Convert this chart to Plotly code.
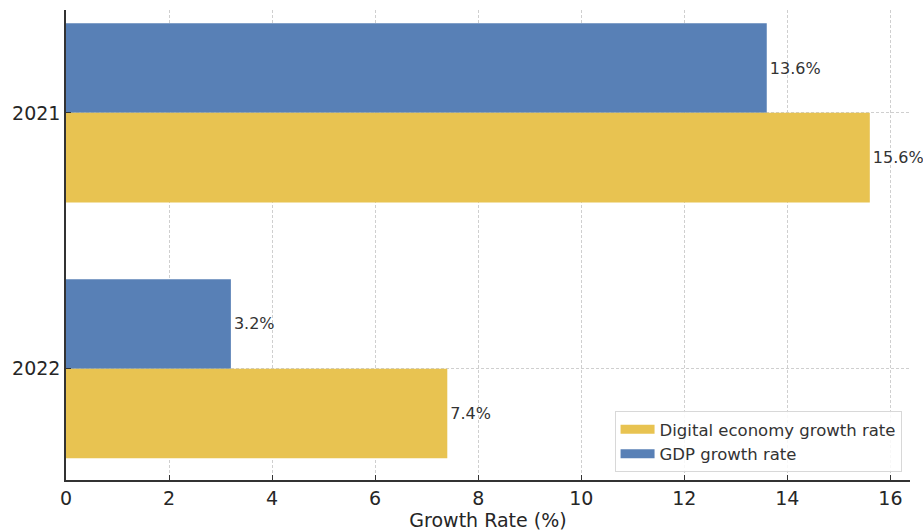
import plotly.graph_objects as go

years = ["2021", "2022"]
gdp_growth = [13.6, 3.2]
digital_growth = [15.6, 7.4]
gdp_labels = ["13.6%", "3.2%"]
digital_labels = ["15.6%", "7.4%"]

ypos = list(range(len(years)))
blue = "#5880B6"
yellow = "#E8C351"
font_family = "DejaVu Sans, Arial, sans-serif"

fig = go.Figure()
fig.add_trace(go.Bar(
    y=ypos, x=gdp_growth, orientation="h", name="GDP growth rate",
    marker=dict(color=blue, line=dict(width=0)), width=0.35, offset=-0.35,
    text=gdp_labels, textposition="outside", cliponaxis=False, constraintext="none",
    textfont=dict(size=16, color="#333333", family=font_family), showlegend=False,
))
fig.add_trace(go.Bar(
    y=ypos, x=digital_growth, orientation="h", name="Digital economy growth rate",
    marker=dict(color=yellow, line=dict(width=0)), width=0.35, offset=0,
    text=digital_labels, textposition="outside", cliponaxis=False, constraintext="none",
    textfont=dict(size=16, color="#333333", family=font_family), showlegend=False,
))
# legend entries (wide rectangular swatches like the reference)
fig.add_trace(go.Scatter(x=[None], y=[None], mode="lines", name="GDP growth rate",
                         line=dict(color=blue, width=9)))
fig.add_trace(go.Scatter(x=[None], y=[None], mode="lines", name="Digital economy growth rate",
                         line=dict(color=yellow, width=9)))

fig.update_layout(
    width=923, height=531,
    margin=dict(l=66, r=13, t=10, b=51, autoexpand=False),
    barmode="overlay",
    plot_bgcolor="white", paper_bgcolor="white",
    font=dict(family=font_family, color="#262626"),
    showlegend=True,
    legend=dict(
        x=0.99, y=0.017, xanchor="right", yanchor="bottom",
        traceorder="reversed",
        bgcolor="rgba(255,255,255,0.85)", bordercolor="#d8d8d8", borderwidth=1,
        font=dict(size=16.5, color="#333333", family=font_family),
        itemwidth=34, tracegroupgap=2,
    ),
    xaxis=dict(
        range=[0, 16.38], tickmode="array", tickvals=[0, 2, 4, 6, 8, 10, 12, 14, 16],
        showgrid=True, gridcolor="#cfcfcf", griddash="3px,2px", gridwidth=1,
        showline=True, linecolor="#333333", linewidth=1.5,
        ticks="inside", ticklen=5, tickcolor="#333333", tickwidth=1.2,
        tickfont=dict(size=19, color="#262626"),
        title=dict(text="Growth Rate (%)", font=dict(size=19, color="#262626"), standoff=6),
        zeroline=False, automargin=False,
    ),
    yaxis=dict(
        range=[1.435, -0.402], tickmode="array", tickvals=ypos, ticktext=years,
        showgrid=True, gridcolor="#cfcfcf", griddash="3px,2px", gridwidth=1,
        showline=True, linecolor="#333333", linewidth=1.5,
        ticks="inside", ticklen=5, tickcolor="#333333", tickwidth=1.2,
        tickfont=dict(size=19, color="#262626"),
        zeroline=False, automargin=False,
    ),
)

fig.write_html("out.html")
